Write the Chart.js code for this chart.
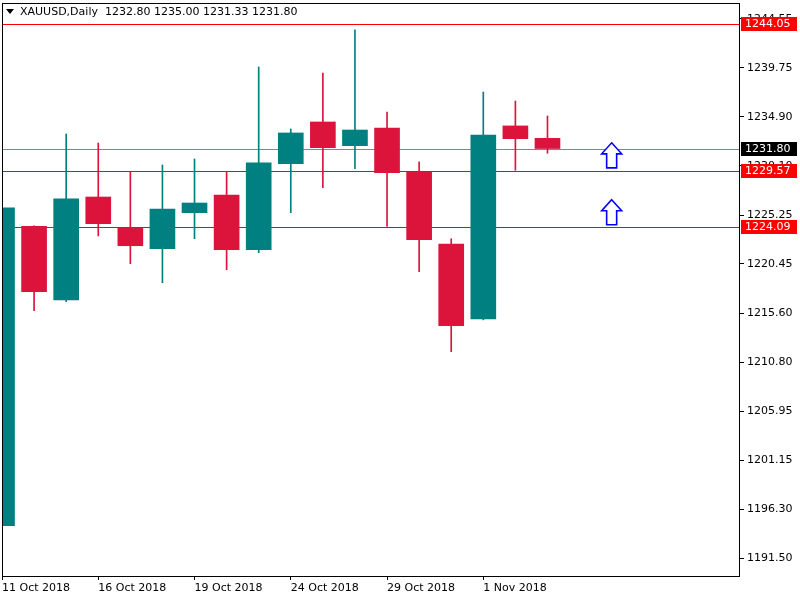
<!DOCTYPE html>
<html>
<head>
<meta charset="utf-8">
<script src="https://cdn.jsdelivr.net/npm/chart.js@4/dist/chart.umd.min.js"></script>
<style>
  html, body { margin: 0; padding: 0; background: #fff; }
  canvas { display: block; }
</style>
</head>
<body>
<canvas id="goldChart" width="800" height="600"></canvas>
<script>
// daily candles, XAUUSD
const dates = ["11 Oct 2018", "12 Oct 2018", "15 Oct 2018", "16 Oct 2018", "17 Oct 2018", "18 Oct 2018",
    "19 Oct 2018", "22 Oct 2018", "23 Oct 2018", "24 Oct 2018", "25 Oct 2018", "26 Oct 2018",
    "29 Oct 2018", "30 Oct 2018", "31 Oct 2018", "1 Nov 2018", "2 Nov 2018", "5 Nov 2018"];
const open  = [1194.71, 1224.15, 1216.90, 1227.03, 1223.98, 1221.95, 1225.49, 1227.23, 1221.85,
    1230.31, 1234.41, 1232.08, 1233.82, 1229.49, 1222.41, 1215.03, 1234.02, 1232.80];
const high  = [1226.34, 1224.20, 1233.23, 1232.34, 1229.49, 1230.18, 1230.77, 1229.49, 1239.82,
    1233.72, 1239.23, 1243.46, 1235.39, 1230.48, 1222.93, 1237.36, 1236.47, 1235.00];
const low   = [1191.07, 1215.85, 1216.74, 1223.20, 1220.47, 1218.60, 1222.93, 1219.88, 1221.56,
    1225.49, 1227.95, 1229.82, 1224.15, 1219.69, 1211.82, 1214.95, 1229.66, 1231.33];
const close = [1225.97, 1217.72, 1226.84, 1224.41, 1222.24, 1225.85, 1226.44, 1221.85, 1230.38,
    1233.33, 1231.88, 1233.62, 1229.42, 1222.83, 1214.38, 1233.13, 1232.77, 1231.80];

const xTickLabels = ["11 Oct 2018", "16 Oct 2018", "19 Oct 2018", "24 Oct 2018", "29 Oct 2018", "1 Nov 2018"];
const yTicks = [1191.50, 1196.30, 1201.15, 1205.95, 1210.80, 1215.60, 1220.45, 1225.25, 1230.10, 1234.90, 1239.75, 1244.55];
const futureSlots = 6;

const redLevels = [1244.05, 1229.57, 1224.09];
const bidPrice = 1231.80;
const arrowSlot = 19;
const arrowPrices = [1229.90, 1224.30];

const UP = "#008080", DOWN = "#dc143c";
const FONT = "11px 'DejaVu Sans', sans-serif";

/* ================= DATA ================= */
const labels = dates.concat(Array(futureSlots).fill(""));
const bodies = dates.map((d, i) => [Math.min(open[i], close[i]), Math.max(open[i], close[i])]);
const wicks = dates.map((d, i) => [low[i], high[i]]);
const colors = dates.map((d, i) => close[i] >= open[i] ? UP : DOWN);

/* ================= OVERLAYS ================= */
const overlay = {
    id: "overlay",
    beforeDatasetsDraw(chart) {
        const { ctx, chartArea: a, scales: { y } } = chart;
        ctx.save();
        ctx.lineWidth = 1;
        const hline = (price, color) => {
            const py = Math.round(y.getPixelForValue(price)) + 0.5;
            ctx.strokeStyle = color;
            ctx.beginPath();
            ctx.moveTo(a.left, py);
            ctx.lineTo(a.right, py);
            ctx.stroke();
        };
        hline(bidPrice, "#778899");
        redLevels.forEach(p => hline(p, "#ff0000"));
        ctx.restore();
    },
    afterDraw(chart) {
        const { ctx, chartArea: a, scales: { x, y } } = chart;
        ctx.save();

        // frame
        ctx.strokeStyle = "#000";
        ctx.lineWidth = 1;
        ctx.strokeRect(a.left + 0.5, a.top + 0.5, a.right - a.left - 1, a.bottom - a.top);

        // arrows
        const ax = x.getPixelForValue(arrowSlot);
        ctx.fillStyle = "#fff";
        ctx.strokeStyle = "#0000ff";
        ctx.lineWidth = 1.6;
        arrowPrices.forEach(p => {
            const yb = y.getPixelForValue(p);
            ctx.beginPath();
            ctx.moveTo(ax, yb - 25);
            ctx.lineTo(ax + 10, yb - 14);
            ctx.lineTo(ax + 5, yb - 14);
            ctx.lineTo(ax + 5, yb);
            ctx.lineTo(ax - 5, yb);
            ctx.lineTo(ax - 5, yb - 14);
            ctx.lineTo(ax - 10, yb - 14);
            ctx.closePath();
            ctx.fill();
            ctx.stroke();
        });

        // price boxes on the axis
        ctx.font = FONT;
        ctx.textBaseline = "middle";
        ctx.textAlign = "left";
        const box = (price, bg) => {
            const py = Math.round(y.getPixelForValue(price));
            ctx.fillStyle = bg;
            ctx.fillRect(a.right + 1, py - 7, 56, 14);
            ctx.fillStyle = "#fff";
            ctx.fillText(price.toFixed(2), a.right + 5, py + 0.5);
        };
        redLevels.forEach(p => box(p, "#ff0000"));
        box(bidPrice, "#000");

        // title
        ctx.fillStyle = "#000";
        ctx.beginPath();
        ctx.moveTo(6, 9);
        ctx.lineTo(14, 9);
        ctx.lineTo(10, 14);
        ctx.closePath();
        ctx.fill();
        const last = dates.length - 1;
        ctx.fillText("XAUUSD,Daily  " + [open[last], high[last], low[last], close[last]].map(v => v.toFixed(2)).join(" "), 20, 12);
        ctx.restore();
    }
};

new Chart(document.getElementById("goldChart").getContext("2d"), {
    type: "bar",
    data: {
        labels: labels,
        datasets: [{
            data: bodies,
            backgroundColor: colors,
            barThickness: 25,
            grouped: false,
            clip: 0,
            order: 0
        }, {
            data: wicks,
            backgroundColor: colors,
            barThickness: 1,
            grouped: false,
            clip: 0,
            order: 1
        }]
    },
    options: {
        responsive: false,
        animation: false,
        layout: { padding: { left: 2, top: 3, right: 0, bottom: 0 } },
        plugins: { legend: { display: false }, tooltip: { enabled: false } },
        scales: {
            x: {
                offset: false,
                border: { display: false },
                grid: {
                    offset: false,
                    drawOnChartArea: false,
                    tickLength: 4,
                    color: ctx => (ctx.tick && ctx.tick.label) ? "#000" : "rgba(0,0,0,0)"
                },
                ticks: {
                    autoSkip: false,
                    maxRotation: 0,
                    align: "start",
                    padding: 2,
                    color: "#000",
                    font: { family: "'DejaVu Sans', sans-serif", size: 11 },
                    callback: (v, i) => xTickLabels.includes(labels[i]) ? labels[i] : ""
                },
                afterFit: s => { s.height = 24; s.paddingLeft = 0; s.paddingRight = 0; }
            },
            y: {
                position: "right",
                min: 1189.76,
                max: 1246.11,
                border: { display: false },
                grid: { drawOnChartArea: false, tickLength: 4, color: "#000" },
                ticks: {
                    padding: 3,
                    color: "#000",
                    font: { family: "'DejaVu Sans', sans-serif", size: 11 },
                    callback: v => v.toFixed(2)
                },
                afterBuildTicks: s => { s.ticks = yTicks.map(v => ({ value: v })); },
                afterFit: s => { s.width = 60; s.paddingTop = 0; s.paddingBottom = 0; }
            }
        }
    },
    plugins: [overlay]
});
</script>
</body>
</html>
